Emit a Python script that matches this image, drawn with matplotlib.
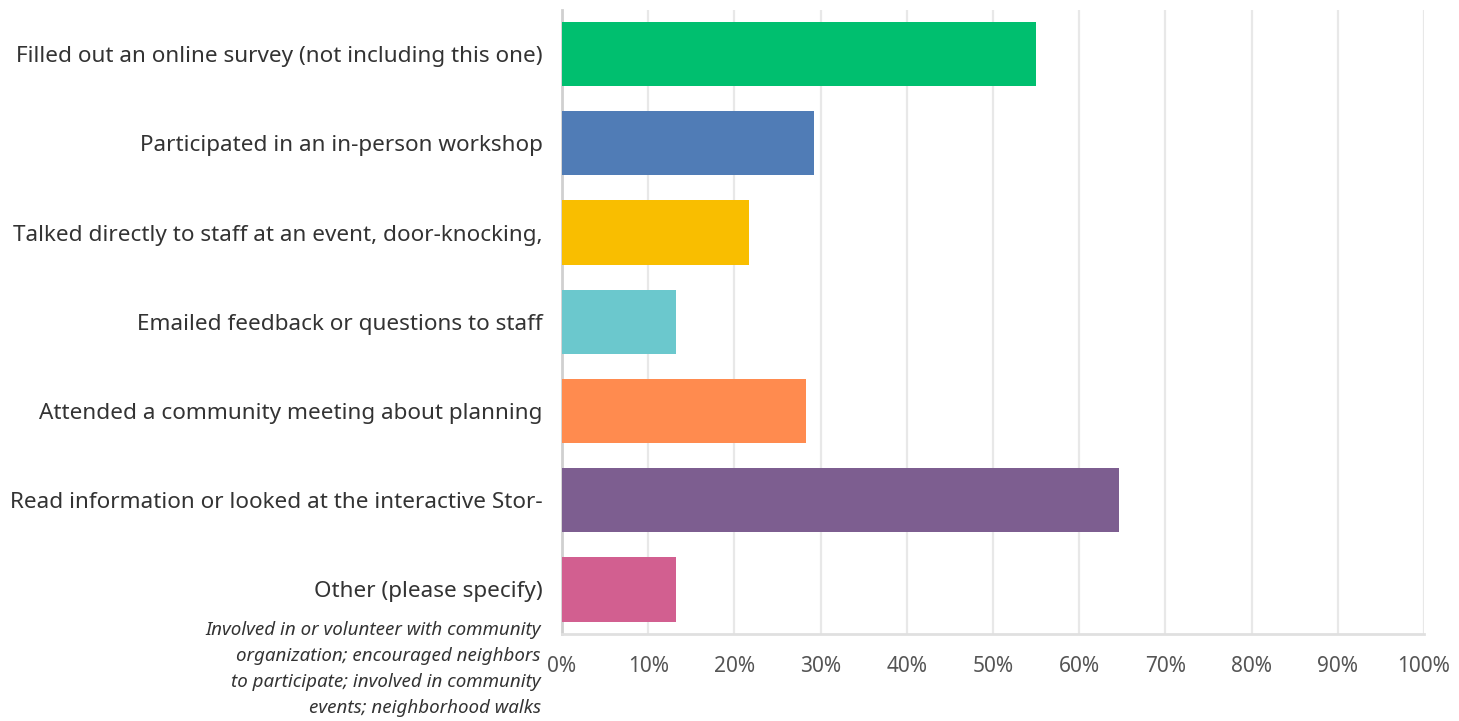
import matplotlib
matplotlib.use("Agg")
from matplotlib import pyplot as plt
from matplotlib.ticker import FuncFormatter
import numpy as np

# survey answers, top to bottom
categories = [
    "Filled out an online survey (not including this one)",
    "Participated in an in-person workshop",
    "Talked directly to staff at an event, door-knocking,",
    "Emailed feedback or questions to staff",
    "Attended a community meeting about planning",
    "Read information or looked at the interactive Stor-",
    "Other (please specify)",
]
percent = [55.0, 29.2, 21.7, 13.2, 28.3, 64.6, 13.2]
colors = ["#00BF6F", "#507CB6", "#F9BE00", "#6BC8CD", "#FF8B4F", "#7D5E90", "#D25F90"]
ticks = [0, 10, 20, 30, 40, 50, 60, 70, 80, 90, 100]
note = ("Involved in or volunteer with community\n"
        "organization; encouraged neighbors\n"
        "to participate; involved in community\n"
        "events; neighborhood walks")

plt.rcParams['font.family'] = ['Noto Sans', 'DejaVu Sans']

fig = plt.figure(figsize=(14.59, 7.21), dpi=100)
ax = fig.add_axes([562 / 1459, 1 - 634 / 721, 862 / 1459, 624.5 / 721])

y = np.arange(len(categories))
ax.barh(y, percent, height=0.72, color=colors, zorder=3)

ax.set_xlim(0, 100)
ax.set_ylim(len(categories) - 0.5, -0.5)
ax.set_xticks(ticks)
ax.xaxis.set_major_formatter(FuncFormatter(lambda v, p: "%d%%" % v))
ax.grid(axis="x", color="#e8e8e8", linewidth=1.6, zorder=0)
ax.tick_params(axis="x", length=0, pad=16, labelsize=15, labelcolor="#555555")
ax.tick_params(axis="y", length=0, pad=14, labelsize=16.2, labelcolor="#333333")
ax.set_yticks(y)
ax.set_yticklabels(categories)

for s in ["top", "right"]:
    ax.spines[s].set_visible(False)
ax.spines["left"].set_color("#d0d0d0")
ax.spines["left"].set_linewidth(2)
ax.spines["bottom"].set_color("#e0e0e0")
ax.spines["bottom"].set_linewidth(2)

fig.text(541 / 1459, 1 - 621 / 721, note, ha="right", va="top", fontsize=13.5,
         style="italic", color="#333333", linespacing=1.58)

plt.savefig("out.png", dpi=100)
